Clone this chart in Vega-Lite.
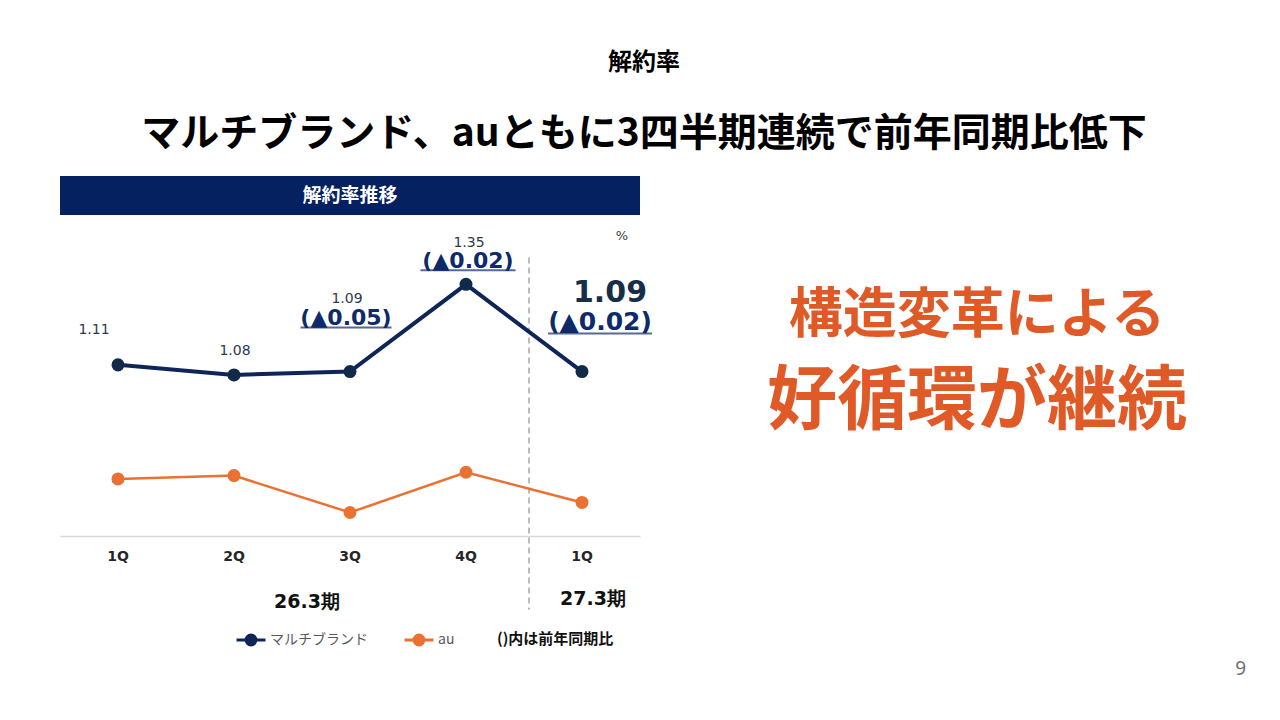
{
  "$schema": "https://vega.github.io/schema/vega-lite/v6.json",
  "background": "white",
  "padding": {"left": 60, "top": 51, "right": 0, "bottom": 0},
  "title": {
    "text": "解約率",
    "subtitle": "マルチブランド、auともに3四半期連続で前年同期比低下",
    "anchor": "middle",
    "dx": -15,
    "font": "Noto Sans CJK JP",
    "fontSize": 24,
    "fontWeight": "bold",
    "color": "#000000",
    "subtitleFont": "Noto Sans CJK JP",
    "subtitleFontSize": 39,
    "subtitleFontWeight": "bold",
    "subtitleColor": "#000000",
    "subtitlePadding": 40,
    "offset": 22
  },
  "datasets": {
    "churn": [
      {"key": "26.3-1Q", "series": "マルチブランド", "rate": 1.11, "yoy": ""},
      {"key": "26.3-2Q", "series": "マルチブランド", "rate": 1.08, "yoy": ""},
      {"key": "26.3-3Q", "series": "マルチブランド", "rate": 1.09, "yoy": "(▲0.05)"},
      {"key": "26.3-4Q", "series": "マルチブランド", "rate": 1.35, "yoy": "(▲0.02)"},
      {"key": "27.3-1Q", "series": "マルチブランド", "rate": 1.09, "yoy": "(▲0.02)"},
      {"key": "26.3-1Q", "series": "au", "rate": 0.77, "yoy": ""},
      {"key": "26.3-2Q", "series": "au", "rate": 0.78, "yoy": ""},
      {"key": "26.3-3Q", "series": "au", "rate": 0.67, "yoy": ""},
      {"key": "26.3-4Q", "series": "au", "rate": 0.79, "yoy": ""},
      {"key": "27.3-1Q", "series": "au", "rate": 0.70, "yoy": ""}
    ],
    "message": [
      {"line": "構造変革による"},
      {"line": "好循環が継続"}
    ]
  },
  "spacing": 40,
  "hconcat": [
    {
      "spacing": 15,
      "vconcat": [
        {
          "width": 580,
          "height": 39,
          "view": {"fill": "#062160", "stroke": null},
          "data": {"values": [{"header": "解約率推移"}]},
          "mark": {"type": "text", "font": "Noto Sans CJK JP", "fontSize": 19, "fontWeight": "bold", "color": "white", "baseline": "middle"},
          "encoding": {"text": {"field": "header"}}
        },
        {
          "width": 580,
          "height": 302,
          "view": {"stroke": null},
          "data": {"name": "churn"},
          "encoding": {
            "x": {
              "field": "key",
              "type": "nominal",
              "scale": {"type": "band", "paddingInner": 0, "paddingOuter": 0},
              "axis": {
                "title": null,
                "labelExpr": "split(datum.label, '-')[1]",
                "labelAngle": 0,
                "labelFont": "DejaVu Sans",
                "labelFontWeight": "bold",
                "labelFontSize": 14,
                "labelColor": "#262626",
                "labelPadding": 13,
                "ticks": false,
                "grid": false,
                "domainColor": "#d9d9d9",
                "domainWidth": 1.5
              }
            },
            "y": {"field": "rate", "type": "quantitative", "scale": {"domain": [0.6, 1.5], "zero": false, "nice": false}, "axis": null}
          },
          "layer": [
            {
              "transform": [{"filter": "datum.series == 'au' && datum.key == '27.3-1Q'"}],
              "mark": {"type": "rule", "color": "#a6a6a6", "strokeDash": [6, 4], "strokeWidth": 1.5, "xOffset": 5},
              "encoding": {
                "x": {"field": "key", "type": "nominal", "bandPosition": 0},
                "y": {"datum": 1.43},
                "y2": {"datum": 0.38}
              }
            },
            {
              "transform": [{"filter": "datum.series == 'au'"}],
              "mark": {"type": "line", "strokeWidth": 2.5},
              "encoding": {
                "stroke": {
                  "field": "series",
                  "type": "nominal",
                  "scale": {"domain": ["マルチブランド", "au"], "range": ["#0f2559", "#e97132"]},
                  "legend": {
                    "title": null,
                    "orient": "none",
                    "direction": "horizontal",
                    "legendX": 175,
                    "legendY": 448,
                    "symbolType": "M-1,0H1M0.34,0A0.34,0.34,0,1,1,-0.34,0A0.34,0.34,0,1,1,0.34,0Z",
                    "symbolSize": 841,
                    "symbolStrokeWidth": 3,
                    "labelFont": "Noto Sans CJK JP",
                    "labelFontSize": 14,
                    "labelColor": "#595959",
                    "labelOffset": 3,
                    "columnPadding": 30
                  }
                }
              }
            },
            {
              "transform": [{"filter": "datum.series == 'マルチブランド'"}],
              "mark": {"type": "line", "strokeWidth": 4},
              "encoding": {
                "stroke": {"field": "series", "type": "nominal"}
              }
            },
            {
              "mark": {"type": "circle", "size": 170, "opacity": 1},
              "encoding": {
                "fill": {
                  "field": "series",
                  "type": "nominal",
                  "scale": {"domain": ["マルチブランド", "au"], "range": ["#112a4a", "#e97132"]}
                }
              }
            },
            {
              "transform": [{"filter": "datum.series == 'マルチブランド' && datum.key == '26.3-1Q'"}],
              "mark": {"type": "text", "font": "DejaVu Sans", "fontSize": 14, "color": "#2e3a4d", "dx": -24, "dy": -35},
              "encoding": {"text": {"field": "rate", "format": ".2f"}}
            },
            {
              "transform": [{"filter": "datum.series == 'マルチブランド' && datum.key == '26.3-2Q'"}],
              "mark": {"type": "text", "font": "DejaVu Sans", "fontSize": 14, "color": "#2e3a4d", "dx": 1, "dy": -24},
              "encoding": {"text": {"field": "rate", "format": ".2f"}}
            },
            {
              "transform": [{"filter": "datum.series == 'マルチブランド' && datum.key == '26.3-3Q'"}],
              "mark": {"type": "text", "font": "DejaVu Sans", "fontSize": 14, "color": "#2e3a4d", "dx": -3, "dy": -73},
              "encoding": {"text": {"field": "rate", "format": ".2f"}}
            },
            {
              "transform": [{"filter": "datum.series == 'マルチブランド' && datum.key == '26.3-3Q'"}],
              "mark": {"type": "text", "font": "DejaVu Sans", "fontSize": 22, "fontWeight": "bold", "color": "#0e2a6b", "dx": -4, "dy": -54},
              "encoding": {"text": {"field": "yoy"}}
            },
            {
              "transform": [{"filter": "datum.series == 'マルチブランド' && datum.key == '26.3-3Q'"}],
              "mark": {"type": "tick", "thickness": 2, "size": 91, "color": "#0e2a6b", "xOffset": -4, "yOffset": -44}
            },
            {
              "transform": [{"filter": "datum.series == 'マルチブランド' && datum.key == '26.3-4Q'"}],
              "mark": {"type": "text", "font": "DejaVu Sans", "fontSize": 14, "color": "#2e3a4d", "dx": 3, "dy": -41},
              "encoding": {"text": {"field": "rate", "format": ".2f"}}
            },
            {
              "transform": [{"filter": "datum.series == 'マルチブランド' && datum.key == '26.3-4Q'"}],
              "mark": {"type": "text", "font": "DejaVu Sans", "fontSize": 22, "fontWeight": "bold", "color": "#0e2a6b", "dx": 2, "dy": -23},
              "encoding": {"text": {"field": "yoy"}}
            },
            {
              "transform": [{"filter": "datum.series == 'マルチブランド' && datum.key == '26.3-4Q'"}],
              "mark": {"type": "tick", "thickness": 2, "size": 95, "color": "#0e2a6b", "xOffset": 2, "yOffset": -14}
            },
            {
              "transform": [{"filter": "datum.series == 'マルチブランド' && datum.key == '27.3-1Q'"}],
              "mark": {"type": "text", "font": "DejaVu Sans", "fontSize": 30, "fontWeight": "bold", "color": "#172e48", "dx": 28, "dy": -79},
              "encoding": {"text": {"field": "rate", "format": ".2f"}}
            },
            {
              "transform": [{"filter": "datum.series == 'マルチブランド' && datum.key == '27.3-1Q'"}],
              "mark": {"type": "text", "font": "DejaVu Sans", "fontSize": 25, "fontWeight": "bold", "color": "#0e2a6b", "dx": 18, "dy": -50},
              "encoding": {"text": {"field": "yoy"}}
            },
            {
              "transform": [{"filter": "datum.series == 'マルチブランド' && datum.key == '27.3-1Q'"}],
              "mark": {"type": "tick", "thickness": 2, "size": 104, "color": "#0e2a6b", "xOffset": 18, "yOffset": -38}
            },
            {
              "transform": [{"filter": "datum.series == 'au' && datum.key == '27.3-1Q'"}],
              "mark": {"type": "text", "font": "DejaVu Sans", "fontSize": 13, "color": "#404040", "dx": 40, "dy": 2},
              "encoding": {"y": {"datum": 1.5}, "text": {"value": "%"}}
            },
            {
              "transform": [{"filter": "datum.series == 'au' && datum.key == '26.3-2Q'"}],
              "mark": {"type": "text", "font": "DejaVu Sans", "fontSize": 19, "fontWeight": "bold", "color": "#111111", "dx": 73, "dy": 66},
              "encoding": {"y": {"datum": 0.6}, "text": {"value": "26.3期"}}
            },
            {
              "transform": [{"filter": "datum.series == 'au' && datum.key == '27.3-1Q'"}],
              "mark": {"type": "text", "font": "DejaVu Sans", "fontSize": 19, "fontWeight": "bold", "color": "#111111", "dx": 11, "dy": 63},
              "encoding": {"y": {"datum": 0.6}, "text": {"value": "27.3期"}}
            },
            {
              "transform": [{"filter": "datum.series == 'au' && datum.key == '27.3-1Q'"}],
              "mark": {"type": "text", "font": "Noto Sans CJK JP", "fontSize": 15, "fontWeight": "bold", "color": "#111111", "align": "left", "dx": -85, "dy": 103},
              "encoding": {"y": {"datum": 0.6}, "text": {"value": "()内は前年同期比"}}
            }
          ]
        }
      ]
    },
    {
      "width": 566,
      "height": 344,
      "view": {"stroke": null},
      "data": {"name": "message"},
      "encoding": {
        "y": {
          "field": "line",
          "type": "nominal",
          "scale": {"type": "band", "domain": ["構造変革による", "好循環が継続"], "paddingInner": 0, "paddingOuter": 1, "align": 0.57},
          "axis": null
        }
      },
      "layer": [
        {
          "mark": {"type": "text", "font": "Noto Sans CJK JP", "fontWeight": "bold", "color": "#e05a28", "baseline": "middle", "dx": 2},
          "encoding": {
            "size": {
              "field": "line",
              "type": "nominal",
              "scale": {"domain": ["構造変革による", "好循環が継続"], "range": [54, 70]},
              "legend": null
            },
            "text": {"field": "line"}
          }
        },
        {
          "transform": [{"filter": "datum.line == '好循環が継続'"}],
          "mark": {"type": "text", "font": "Noto Sans", "fontSize": 19, "color": "#707070", "align": "right", "baseline": "middle", "dx": 271, "dy": 266},
          "encoding": {"text": {"value": "9"}}
        }
      ]
    }
  ]
}
